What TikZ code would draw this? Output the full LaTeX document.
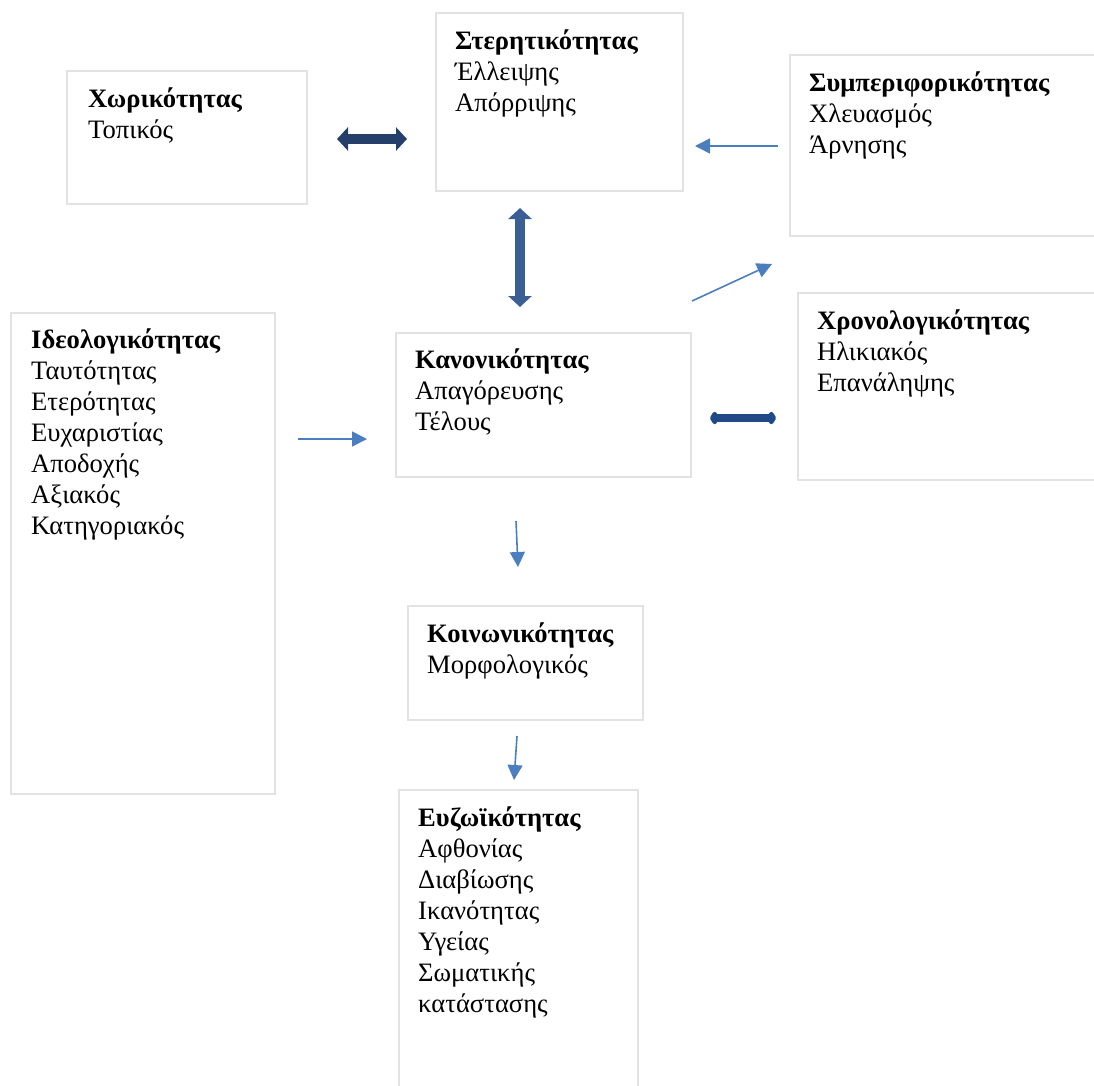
\documentclass[tikz,border=0pt]{standalone}
\usepackage{fontspec}
\setmainfont{Liberation Serif}
\usepackage{tikz}
\usetikzlibrary{arrows.meta}

\definecolor{boxgray}{HTML}{E2E2E2}
\definecolor{navydark}{HTML}{24406A}
\definecolor{navymid}{HTML}{3A5F94}
\definecolor{navyright}{HTML}{1F4A87}
\definecolor{thinblue}{HTML}{4A7EBF}

\begin{document}
\begin{tikzpicture}[x=1pt,y=-1pt,
    box/.style={draw=boxgray,line width=1.6pt,anchor=north west,inner sep=0pt},
    txt/.style={anchor=north west,inner sep=0pt,align=left,font=\fontsize{26.6}{31}\selectfont},
    fatarrow/.style={draw=#1,line width=10pt,{Triangle[width=23pt,length=11pt]}-{Triangle[width=23pt,length=11pt]}},
    roundarrow/.style={draw=navyright,line width=8pt,{Kite[width=16pt,length=10pt,inset=5pt,round]}-{Kite[width=16pt,length=10pt,inset=5pt,round]}},
    thinarrow/.style={draw=thinblue,line width=1.6pt,-{Triangle[width=15pt,length=15pt]}}]
        \useasboundingbox (0,0) rectangle (1094,1085);
        \clip (0,0) rectangle (1094,1085);
        % boxes
        \node[box,minimum width=240,minimum height=133] (Xor) at (66,70) {};
        \node[box,minimum width=247,minimum height=178] (Ster) at (435,12) {};
        \node[box,minimum width=330,minimum height=181] (Symp) at (789,54) {};
        \node[box,minimum width=320,minimum height=187] (Xron) at (797,292) {};
        \node[box,minimum width=264,minimum height=481] (Ideo) at (10,312) {};
        \node[box,minimum width=295,minimum height=144] (Kan) at (395,332) {};
        \node[box,minimum width=235,minimum height=114] (Koin) at (407,605) {};
        \node[box,minimum width=239,minimum height=320] (Evz) at (398,789) {};
        % texts
        \node[txt] (XorT) at (88,88) {\textbf{Χωρικότητας}\\Τοπικός};
        \node[txt] (SterT) at (455,30) {\textbf{Στερητικότητας}\\Έλλειψης\\Απόρριψης};
        \node[txt] (SympT) at (809,72) {\textbf{Συμπεριφορικότητας}\\Χλευασμός\\Άρνησης};
        \node[txt] (XronT) at (817,310) {\textbf{Χρονολογικότητας}\\Ηλικιακός\\Επανάληψης};
        \node[txt] (IdeoT) at (31,329) {\textbf{Ιδεολογικότητας}\\Ταυτότητας\\Ετερότητας\\Ευχαριστίας\\Αποδοχής\\Αξιακός\\Κατηγοριακός};
        \node[txt] (KanT) at (415,349) {\textbf{Κανονικότητας}\\Απαγόρευσης\\Τέλους};
        \node[txt] (KoinT) at (427,623) {\textbf{Κοινωνικότητας}\\Μορφολογικός};
        \node[txt] (EvzT) at (418,807) {\textbf{Ευζωϊκότητας}\\Αφθονίας\\Διαβίωσης\\Ικανότητας\\Υγείας\\Σωματικής\\κατάστασης};
        % arrow ends
        \coordinate (a1) at (337,139);
        \coordinate (a2) at (407,139);
        \coordinate (b1) at (520,208);
        \coordinate (b2) at (520,307);
        \coordinate (c1) at (692,301);
        \coordinate (c2) at (772,264);
        \coordinate (d1) at (778,146);
        \coordinate (d2) at (695,146);
        \coordinate (e1) at (710,418);
        \coordinate (e2) at (776,418);
        \coordinate (f1) at (298,439);
        \coordinate (f2) at (367,439);
        \coordinate (g1) at (516,521);
        \coordinate (g2) at (518,567);
        \coordinate (h1) at (517,736);
        \coordinate (h2) at (514,780);
        \draw
        (a1) edge[fatarrow=navydark] (a2)
        (b1) edge[fatarrow=navymid] (b2)
        (e1) edge[roundarrow] (e2)
        (c1) edge[thinarrow] (c2)
        (d1) edge[thinarrow] (d2)
        (f1) edge[thinarrow] (f2)
        (g1) edge[thinarrow] (g2)
        (h1) edge[thinarrow] (h2)
        ;
      \end{tikzpicture}
\end{document}
